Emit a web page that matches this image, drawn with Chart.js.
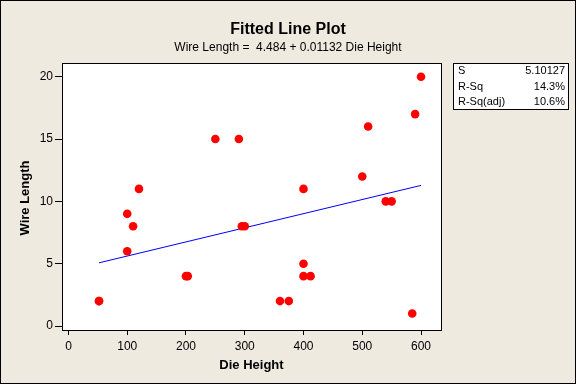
<!DOCTYPE html>
<html>
<head>
<meta charset="utf-8">
<script src="https://cdn.jsdelivr.net/npm/chart.js@4"></script>
<style>
  html, body { margin: 0; padding: 0; background: #eeeae0; }
  #wrap { width: 576px; height: 384px; }
</style>
</head>
<body>
<div id="wrap"><canvas id="fitPlot" width="576" height="384"></canvas></div>
<script>
// data
const dieHeight = [52, 52, 100, 100, 110, 120, 200, 203, 250, 290, 295, 300,
  400, 400, 400, 412, 360, 375, 500, 510, 540, 550, 585, 590, 600];
const wireLength = [2, 2, 6, 9, 8, 11, 4, 4, 15, 15, 8, 8,
  11, 5, 4, 4, 2, 2, 12, 16, 10, 10, 1, 17, 20];
const fitX = [52, 600];
const fitY = [5.07, 11.28];
const xTicks = [0, 100, 200, 300, 400, 500, 600];
const yTicks = [0, 5, 10, 15, 20];
const statNames = ["S", "R-Sq", "R-Sq(adj)"];
const statValues = ["5.10127", "14.3%", "10.6%"];

const FONT = "'Liberation Sans', Arial, sans-serif";

const decorations = {
  id: "decorations",
  beforeDraw(chart) {
    const ctx = chart.ctx;
    ctx.save();
    ctx.fillStyle = "#eeeae0";
    ctx.fillRect(0, 0, chart.width, chart.height);
    const a = chart.chartArea;
    ctx.fillStyle = "#ffffff";
    ctx.fillRect(a.left, a.top, a.right - a.left, a.bottom - a.top);
    ctx.restore();
  },
  afterDraw(chart) {
    const ctx = chart.ctx;
    const a = chart.chartArea;
    ctx.save();
    // plot frame
    ctx.strokeStyle = "#000";
    ctx.lineWidth = 1;
    ctx.strokeRect(Math.round(a.left) + 0.5, Math.round(a.top) + 0.5,
      Math.round(a.right - a.left), Math.round(a.bottom - a.top));
    // outer frame
    ctx.strokeRect(0.5, 0.5, chart.width - 1, chart.height - 1);

    // titles
    ctx.fillStyle = "#000";
    ctx.textAlign = "center";
    ctx.textBaseline = "middle";
    ctx.font = "bold 16px " + FONT;
    ctx.fillText("Fitted Line Plot", 288, 30);
    ctx.font = "12px " + FONT;
    ctx.fillText("Wire Length =  4.484 + 0.01132 Die Height", 288, 48);

    // axis titles
    ctx.font = "bold 13px " + FONT;
    ctx.fillText("Die Height", (a.left + a.right) / 2, 365);
    ctx.save();
    ctx.translate(25, 198);
    ctx.rotate(-Math.PI / 2);
    ctx.fillText("Wire Length", 0, 0);
    ctx.restore();

    // stats box
    ctx.fillStyle = "#fff";
    ctx.fillRect(453, 63, 115, 46);
    ctx.strokeRect(453.5, 63.5, 115, 46);
    ctx.fillStyle = "#000";
    ctx.font = "11px " + FONT;
    statNames.forEach((n, i) => {
      const y = 71 + i * 15.5;
      ctx.textAlign = "left";
      ctx.fillText(n, 458, y);
      ctx.textAlign = "right";
      ctx.fillText(statValues[i], 565, y);
    });
    ctx.restore();
  }
};

const points = dieHeight.map((x, i) => ({ x: x, y: wireLength[i] }));
const fitLine = fitX.map((x, i) => ({ x: x, y: fitY[i] }));

const config = {
  type: "scatter",
  data: {
    datasets: [
      {
        label: "Regression",
        type: "line",
        data: fitLine,
        borderColor: "#0000ff",
        borderWidth: 1,
        pointRadius: 0,
        fill: false,
        order: 2,
      },
      {
        label: "Data",
        data: points,
        backgroundColor: "#ff0000",
        borderColor: "#ff0000",
        pointRadius: 4.3,
        pointBorderWidth: 0,
        order: 1,
      },
    ],
  },
  options: {
    responsive: false,
    animation: false,
    layout: { padding: { top: 63, right: 135, left: 0, bottom: 0 } },
    scales: {
      x: {
        type: "linear",
        min: -11,
        max: 634,
        afterBuildTicks: (s) => { s.ticks = xTicks.map((v) => ({ value: v })); },
        afterFit: (s) => { s.height = 54; },
        grid: { display: true, drawOnChartArea: false, drawTicks: true, tickLength: 5, color: "#000" },
        border: { display: true, color: "#000" },
        ticks: { color: "#000", font: { family: FONT, size: 12 }, padding: 4, maxRotation: 0 },
      },
      y: {
        type: "linear",
        min: -0.32,
        max: 21.1,
        afterBuildTicks: (s) => { s.ticks = yTicks.map((v) => ({ value: v })); },
        afterFit: (s) => { s.width = 62; },
        grid: { display: true, drawOnChartArea: false, drawTicks: true, tickLength: 7, color: "#000" },
        border: { display: true, color: "#000" },
        ticks: { color: "#000", font: { family: FONT, size: 12 }, padding: 2 },
      },
    },
    plugins: {
      legend: { display: false },
      title: { display: false },
      tooltip: { enabled: false },
    },
  },
  plugins: [decorations],
};

new Chart(document.getElementById("fitPlot"), config);
</script>
</body>
</html>
